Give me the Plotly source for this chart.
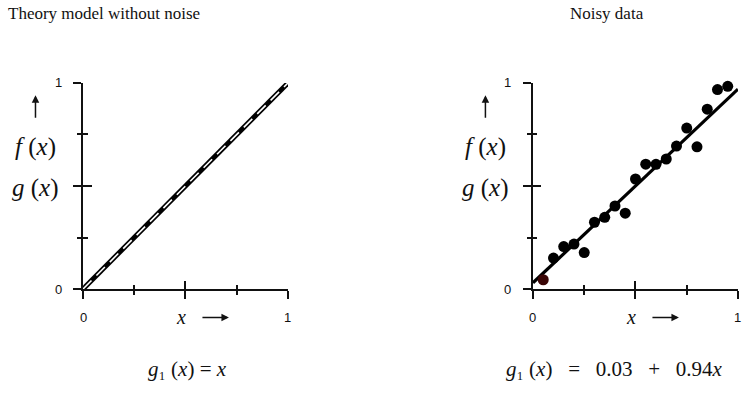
import plotly.graph_objects as go

# Theory model (no noise): f(x) and g(x) coincide on y = x
theory_x = [0.0, 1.0]
theory_y = [0.0, 1.0]

# Noisy samples
noisy_x = [0.05, 0.10, 0.15, 0.20, 0.25, 0.30, 0.35, 0.40, 0.45, 0.50,
           0.55, 0.60, 0.65, 0.70, 0.75, 0.80, 0.85, 0.90, 0.95]
noisy_y = [0.045, 0.150, 0.206, 0.218, 0.177, 0.324, 0.348, 0.403, 0.368, 0.534,
           0.606, 0.605, 0.631, 0.694, 0.781, 0.690, 0.873, 0.968, 0.984]

# Fitted line g1(x) = 0.03 + 0.94x
fit_intercept = 0.03
fit_slope = 0.94
fit_x = [0.0, 1.0]
fit_y = [fit_intercept + fit_slope * v for v in fit_x]

major_ticks = [0, 0.5, 1]
minor_ticks = [0.25, 0.75]
label_vals = [0, 1]
label_text = ["0", "1"]

titles = ["Theory model without noise", "Noisy data"]
formulas = ["<i>g</i>\u2081 (<i>x</i>) = <i>x</i>",
            "<i>g</i>\u2081 (<i>x</i>) \u00a0\u00a0=\u00a0\u00a0 0.03 "
            "\u00a0\u00a0+\u00a0\u00a0 0.94<i>x</i>"]

SERIF = "Liberation Serif, DejaVu Serif, Times New Roman, serif"
SANS = "Liberation Sans, Arial, sans-serif"
INK = "#111111"

X_DOMS = [[0.1119, 0.3881], [0.7183, 0.9946]]
Y_DOM = [0.2899, 0.7961]

fig = go.Figure()

# Left panel: thick black line with a white dashed core
fig.add_trace(go.Scatter(x=theory_x, y=theory_y, mode="lines",
                         line=dict(color="black", width=5), xaxis="x", yaxis="y",
                         hoverinfo="skip"))
fig.add_trace(go.Scatter(x=theory_x, y=theory_y, mode="lines",
                         line=dict(color="white", width=1.6, dash="12px,7px"),
                         xaxis="x", yaxis="y", hoverinfo="skip"))

# Right panel: fit line and noisy points
fig.add_trace(go.Scatter(x=fit_x, y=fit_y, mode="lines",
                         line=dict(color="black", width=3.2), xaxis="x2", yaxis="y2",
                         hoverinfo="skip"))
point_colors = ["#3a0606"] + ["black"] * (len(noisy_x) - 1)
fig.add_trace(go.Scatter(x=noisy_x, y=noisy_y, mode="markers",
                         marker=dict(color=point_colors, size=11),
                         xaxis="x2", yaxis="y2", cliponaxis=False))

# Empty traces that carry the overlay axes (inner halves of the tick marks)
for xa, ya in [("x3", "y3"), ("x4", "y4")]:
    fig.add_trace(go.Scatter(x=[], y=[], xaxis=xa, yaxis=ya, hoverinfo="skip"))


def axis(inner, **extra):
    side = "inside" if inner else "outside"
    d = dict(range=[0, 1], showgrid=False, zeroline=False, fixedrange=True,
             showticklabels=False, tickmode="array", tickvals=major_ticks,
             ticks=side, ticklen=8.5, tickwidth=1.6, tickcolor=INK,
             minor=dict(tickmode="array", tickvals=minor_ticks, ticks=side,
                        ticklen=4.5, tickwidth=1.6, tickcolor=INK))
    if inner:
        d.update(showline=False)
    else:
        d.update(showline=True, linecolor=INK, linewidth=1.8)
    d.update(extra)
    return d


fig.update_layout(
    width=742, height=407, margin=dict(l=0, r=0, t=0, b=0),
    paper_bgcolor="white", plot_bgcolor="white", showlegend=False,
    xaxis=axis(False, domain=X_DOMS[0], anchor="y"),
    yaxis=axis(False, domain=Y_DOM, anchor="x"),
    xaxis2=axis(False, domain=X_DOMS[1], anchor="y2"),
    yaxis2=axis(False, domain=Y_DOM, anchor="x2"),
    xaxis3=axis(True, domain=X_DOMS[0], anchor="y3", overlaying="x"),
    yaxis3=axis(True, domain=Y_DOM, anchor="x3", overlaying="y"),
    xaxis4=axis(True, domain=X_DOMS[1], anchor="y4", overlaying="x2"),
    yaxis4=axis(True, domain=Y_DOM, anchor="x4", overlaying="y2"),
)

annotations = []
title_cx = [104, 607]
formula_cx = [188, 614]
tick_font = dict(family=SANS, size=13, color=INK)
for i, (xa, ya) in enumerate([("x", "y"), ("x2", "y2")]):
    xd, yd = xa + " domain", ya + " domain"
    # tick labels at 0 and 1
    for v, t in zip(label_vals, label_text):
        annotations.append(dict(text=t, xref=xa, yref=yd, x=v, y=0, yshift=-28,
                                showarrow=False, font=tick_font,
                                xanchor="center", yanchor="middle"))
        annotations.append(dict(text=t, xref=xd, yref=ya, x=0, y=v, xshift=-25,
                                showarrow=False, font=tick_font,
                                xanchor="center", yanchor="middle"))
    # panel title
    annotations.append(dict(text=titles[i], xref="paper", yref="paper",
                            x=title_cx[i] / 742, y=1 - 14 / 407, showarrow=False,
                            font=dict(family=SERIF, size=17, color=INK),
                            xanchor="center", yanchor="middle"))
    # formula below each panel
    annotations.append(dict(text=formulas[i], xref="paper", yref="paper",
                            x=formula_cx[i] / 742, y=1 - 369 / 407, showarrow=False,
                            font=dict(family=SERIF, size=21, color=INK),
                            xanchor="center", yanchor="middle"))
    # x-axis label with a rightward arrow
    annotations.append(dict(text="<i>x</i>", xref=xd, yref=yd, x=0.712, y=-0.138,
                            ax=-48, ay=0, showarrow=True, arrowhead=2, arrowsize=1,
                            arrowwidth=1.5, arrowcolor=INK, startstandoff=15,
                            font=dict(family=SERIF, size=20, color=INK)))
    # y-axis label: upward arrow above f(x)
    annotations.append(dict(text="<i>f</i> (<i>x</i>)", xref=xd, yref=yd, x=-0.232, y=0.94,
                            ax=0, ay=52, showarrow=True, arrowhead=2, arrowsize=1,
                            arrowwidth=1.5, arrowcolor=INK, startstandoff=14,
                            font=dict(family=SERIF, size=25, color=INK)))
    annotations.append(dict(text="<i>g</i> (<i>x</i>)", xref=xd, yref=yd, x=-0.232, y=0.49,
                            showarrow=False, font=dict(family=SERIF, size=25, color=INK),
                            xanchor="center", yanchor="middle"))
fig.update_layout(annotations=annotations)

fig.write_html("out.html")
